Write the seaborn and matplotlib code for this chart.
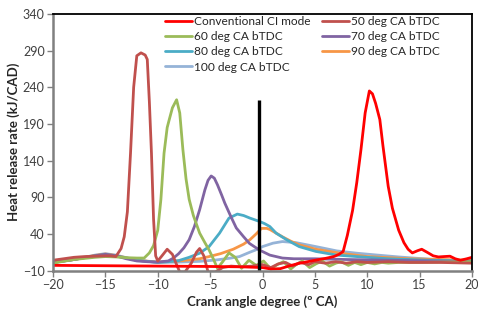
import numpy as np
import pandas as pd
import seaborn as sns
import matplotlib
matplotlib.use("Agg")
import matplotlib.pyplot as plt

# series (crank angle, heat release rate)
conv_x = [-20, -15, -10, -5, -2, 0, 0.8, 1.7, 2.5, 3.4, 4.3, 5.2, 6, 6.8, 7.3, 7.7, 8.1, 8.6, 9, 9.4, 9.8,
          10.2, 10.5, 10.8, 11.2, 11.5, 12, 12.4, 13, 13.5, 13.9, 14.3, 14.8, 15.2, 15.7, 16.3, 16.8,
          17.3, 17.9, 18.4, 18.9, 19.5, 20]
conv_y = [-3, -3.5, -4, -4.5, -5, -6, -8, -7.5, -4, -0.5, 2, 4.5, 6.5, 9, 12, 16, 38, 72, 110, 155, 205,
          235, 231, 218, 196, 160, 105, 75, 45, 28, 19, 14, 17, 19, 15, 10, 8.5, 9, 9.5, 6, 4, 6, 8]

deg50_x = [-20, -19, -18, -17, -16, -15, -14.5, -14, -13.5, -13.2, -12.9, -12.6, -12.3, -12, -11.6,
           -11.2, -11, -10.8, -10.6, -10.4, -10.2, -10, -9.6, -9.1, -8.6, -8.2, -7.9, -7.4, -6.8, -6.3,
           -6, -5.6, -5.2, -4.5, -3.8, -3, -2, -1, 0, 0.8, 1.5, 2.2, 2.9, 3.6, 4.4, 5, 6, 7, 8, 9, 10,
           12, 14, 17, 20]
deg50_y = [4, 6, 8, 9, 9.5, 10, 10, 9, 20, 36, 70, 150, 240, 283, 287, 284, 278, 220, 150, 60, 10, 3,
           10, 19, 12, -2, -12, -12, 0, 15, 20, 10, -12, -12, -6, -4, -5, -4, -2, -6, -1, 1, -4, 1, -2,
           2, 0, 2, 0, 2, 1, 2, 1, 1, 0]

deg60_x = [-20, -18, -16, -15, -14, -13, -12, -11.3, -10.8, -10.4, -10, -9.7, -9.4, -9.1, -8.9, -8.6,
           -8.2, -7.9, -7.6, -7.3, -7, -6.6, -6, -5.5, -5.1, -4.7, -4.3, -3.8, -3.2, -2.6, -2, -1.3,
           -0.6, 0.1, 0.8, 1.4, 2, 2.7, 3.2, 3.8, 4.5, 5.1, 5.7, 6.4, 7, 7.5, 8.2, 8.8, 9.4, 10, 10.7,
           11.4, 12, 13, 15, 17, 20]
deg60_y = [0, 5, 8, 9, 8.5, 7.5, 7, 7, 14, 24, 45, 87, 150, 185, 196, 212, 223, 205, 155, 115, 87, 65,
           41, 28, 18, 6, -7, 2, 14, 8, -7, 4, -3, 3, -8, -2, 2, -8, -2, 3, -6, -1, 3, -4, 0, 2, -3, 1,
           -2, 1, -1, 1, 0, 1, 1, 1.5, 2]

deg70_x = [-20, -18, -16, -15, -14, -13, -12, -11, -10, -9, -8.5, -8, -7.5, -7, -6.5, -6, -5.5, -5.2,
           -4.9, -4.6, -4.3, -3.9, -3.6, -3, -2.5, -1.8, -1.25, -0.3, 0.7, 1.9, 3, 5, 8, 12, 16, 20]
deg70_y = [1, 5, 10, 12, 10, 6, 3, 2, 1.5, 3, 7, 13, 21, 32, 50, 73, 100, 113, 119, 116, 107, 93, 82,
           63, 48, 36, 27, 18, 11, 7, 6, 6, 5, 4, 3, 2]

deg80_x = [-20, -18, -16, -15, -14, -12, -10, -9, -8, -7, -6, -5.1, -4.1, -3.2, -2.4, -1.8, -1.2, -0.3,
           0.2, 0.7, 1.3, 2.3, 3.5, 5.1, 7.1, 9, 12, 16, 20]
deg80_y = [1, 5, 10, 12, 10, 4, 1, 2, 3.5, 8, 13.6, 22.6, 41, 61.5, 67, 65, 61.5, 57, 54, 50, 41, 32,
           22.6, 16, 11, 9, 6, 4, 3]

deg90_x = [-20, -18, -16, -15, -14, -12, -10, -8, -6, -5.1, -4, -2.8, -1.8, -1.2, -0.6, -0.1, 0.4, 0.7,
           1.3, 1.9, 2.7, 3.5, 5.1, 7.4, 10, 14, 20]
deg90_y = [1, 5, 10.5, 12.5, 10.5, 4, 1.5, 3, 6, 9, 13, 19, 26, 32, 40, 47.5, 47.5, 46, 41, 36, 30, 25,
           19, 13.6, 9, 6, 4]

deg100_x = [-20, -18, -16, -15, -14, -12, -10, -8, -6, -4.4, -3, -2.2, -1.2, -0.3, 0, 1, 1.9, 3.2, 5.1,
            7.1, 9, 11, 13, 14.7, 17, 20]
deg100_y = [1, 5, 11, 13, 11, 4, 1, 1.5, 2.5, 4.4, 7, 9, 15, 20, 22.6, 27.3, 29.5, 28, 22.6, 16.7,
            13.6, 11, 8.5, 6.7, 4.5, 2]

labels = ["Conventional CI mode", "50 deg CA bTDC", "60 deg CA bTDC", "70 deg CA bTDC",
          "80 deg CA bTDC", "90 deg CA bTDC", "100 deg CA bTDC"]
colors = ["#FF0000", "#C0504D", "#9BBB59", "#8064A2", "#4BACC6", "#F79646", "#95B3D7"]

# TDC marker line
tdc_x = -0.3
tdc_top = 222

series = [(conv_x, conv_y), (deg50_x, deg50_y), (deg60_x, deg60_y), (deg70_x, deg70_y),
          (deg80_x, deg80_y), (deg90_x, deg90_y), (deg100_x, deg100_y)]
frames = []
for lab, (xs, ys) in zip(labels, series):
    frames.append(pd.DataFrame({"x": xs, "y": ys, "case": lab}))
df = pd.concat(frames, ignore_index=True)

sns.set_style("white")
plt.rcParams["font.family"] = ["Lato", "DejaVu Sans"]

fig = plt.figure(figsize=(4.78, 3.11), dpi=100)
ax = fig.add_axes([53 / 478, 1 - 270.5 / 311, (472 - 53) / 478, (270.5 - 14) / 311])

# draw in reverse so the first series sits on top like the original
for lab, col in list(zip(labels, colors))[::-1]:
    sns.lineplot(data=df[df["case"] == lab], x="x", y="y", color=col, linewidth=2.0,
                 sort=False, ax=ax, label=lab)

ax.vlines(tdc_x, -10, tdc_top, color="black", linewidth=2.4)

ax.set_xlim(-20, 20)
ax.set_ylim(-10, 340)
ax.set_xticks(np.arange(-20, 21, 5))
ax.set_yticks(np.arange(-10, 341, 50))
ax.tick_params(axis="both", direction="out", length=4, width=1, color="#808080",
               labelsize=9, labelcolor="#404040", pad=2)
ax.tick_params(axis="both", which="both", bottom=True, left=True)

for s in ["left", "bottom"]:
    ax.spines[s].set_color("#808080")
    ax.spines[s].set_linewidth(1.8)
for s in ["top", "right"]:
    ax.spines[s].set_color("black")
    ax.spines[s].set_linewidth(1.3)

ax.set_xlabel("Crank angle degree (º CA)", fontsize=9.5, fontweight="bold", labelpad=3)
ax.set_ylabel("Heat release rate (kJ/CAD)", fontsize=9.5, fontweight="bold", labelpad=2)

# legend: two columns, filled row by row like the original
handles, labs = ax.get_legend_handles_labels()
lookup = dict(zip(labs, handles))
order = [labels[0], labels[2], labels[4], labels[6], labels[1], labels[3], labels[5]]
ax.legend([lookup[l] for l in order], order, ncol=2, frameon=False, fontsize=8.6,
          loc="upper left", bbox_to_anchor=(165 / 478, 1 - 16 / 311), bbox_transform=fig.transFigure,
          borderpad=0, borderaxespad=0, handlelength=2.3, handletextpad=0.15,
          labelspacing=0.35, columnspacing=0.9)

fig.savefig("out.png", dpi=100)
